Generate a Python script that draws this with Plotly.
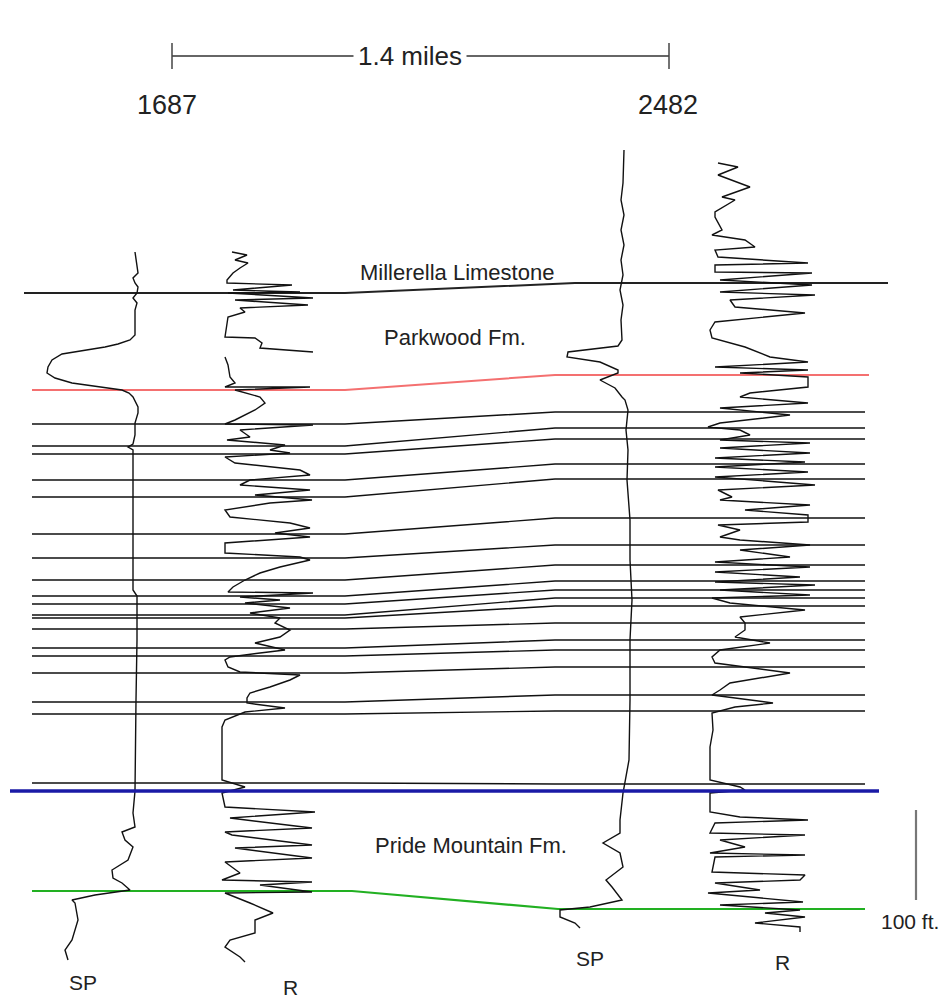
import plotly.graph_objects as go

# ---------------- data ----------------
well_names = ["1687", "2482"]
scale_label = "1.4 miles"
depth_scale_label = "100 ft."
formation_labels = ["Millerella Limestone", "Parkwood Fm.", "Pride Mountain Fm."]
curve_labels = ["SP", "R"]

# correlation horizons: depth at well 1687 (left) and at well 2482 (right)
horizon_left = [424, 446, 454, 480, 497, 534, 558, 580, 596, 604, 615, 618, 629, 648, 656, 673, 702, 714, 783]
horizon_right = [412, 428, 439, 464, 479, 518, 545, 565, 581, 590, 598, 606, 623, 640, 650, 667, 695, 711, 784]
millerella = [293, 283]
parkwood_base = [390, 375]
pride_top = [791, 791]
pride_base = [891, 909]

# well 1687 SP log (depth, reading)
w1_sp = [(252, 135), (267, 137), (273, 138), (278, 133), (283, 135), (287, 138), (293, 137), (298, 133),
         (303, 137), (310, 135), (320, 135), (335, 135), (340, 130), (344, 118), (347, 105), (350, 85),
         (354, 62), (360, 52), (367, 48), (373, 47), (378, 55), (383, 72), (387, 100), (390, 122),
         (393, 129), (397, 133), (407, 138), (413, 138), (423, 135), (435, 135), (444, 133), (447, 128),
         (450, 133), (500, 133), (540, 133), (580, 133), (590, 133), (596, 137), (640, 137), (700, 136),
         (760, 135), (791, 135), (813, 133), (827, 135), (832, 122), (840, 125), (847, 133), (860, 128),
         (870, 112), (878, 113), (883, 122), (890, 130), (895, 95), (900, 72), (903, 75), (920, 78),
         (940, 72), (950, 65), (960, 68)]

# well 1687 resistivity log (None = break in trace)
w1_r = [(252, 232), (255, 247), (260, 235), (263, 248), (268, 240), (273, 233), (280, 227), (283, 227),
        (285, 292), (290, 233), (292, 300), (293, 228), (298, 313), (300, 235), (305, 308), (308, 240),
        (312, 245), (317, 228), (337, 225), (338, 255), (343, 262), (348, 260), (352, 313), None,
        (357, 225), (365, 228), (377, 230), (383, 235), (387, 225), (387, 310), (390, 235), (397, 260),
        (403, 265), (410, 255), (420, 235), (424, 225), (425, 313), (430, 240), (437, 250), (440, 227),
        (445, 285), (450, 270), (453, 290), (457, 225), (463, 235), (470, 300), (475, 310), (480, 250),
        (485, 240), (490, 310), (495, 255), (500, 312), (503, 270), (510, 225), (517, 230), (523, 290),
        (528, 310), (533, 275), (537, 310), (543, 225), (553, 225), (557, 300), (560, 310), (567, 280),
        (573, 260), (580, 245), (587, 233), (592, 228), (593, 313), (597, 240), (600, 280), (603, 245),
        (608, 290), (613, 250), (618, 280), (623, 275), (630, 290), (637, 280), (643, 255), (650, 285),
        (653, 260), (657, 230), (660, 225), (667, 228), (672, 240), (675, 300), (680, 290), (687, 270),
        (693, 250), (698, 247), (703, 247), (708, 285), (712, 245), (720, 225), (727, 222), (780, 222),
        (787, 245), (793, 222), (807, 225), (812, 315), (818, 230), (828, 312), (832, 225), (835, 232),
        (845, 312), (848, 235), (858, 312), (862, 225), (873, 240), (880, 222), (882, 312), (885, 260),
        (892, 312), (893, 225), (903, 250), (913, 273), (920, 255), (933, 255), (940, 230), (947, 225),
        (957, 240), (962, 245)]

# well 2482 SP log
w2_sp = [(150, 624), (183, 623), (200, 621), (215, 624), (230, 621), (245, 624), (260, 621), (275, 623),
         (290, 620), (305, 623), (320, 621), (340, 622), (346, 618), (349, 590), (352, 568), (357, 567),
         (362, 600), (370, 618), (373, 618), (380, 600), (388, 615), (397, 622), (400, 625), (410, 628),
         (430, 626), (450, 628), (480, 627), (520, 630), (560, 630), (600, 632), (640, 630), (700, 630),
         (760, 629), (793, 623), (820, 620), (833, 620), (843, 603), (853, 620), (867, 623), (880, 606),
         (887, 612), (900, 622), (907, 590), (910, 560), (917, 560), (923, 575), (928, 580)]

# well 2482 resistivity log
w2_r = [(163, 718), (167, 738), (175, 718), (187, 750), (197, 722), (200, 735), (212, 715), (217, 715),
        (230, 722), (235, 712), (240, 745), (247, 755), (250, 715), (257, 718), (263, 808), (265, 715),
        (272, 715), (273, 812), (280, 720), (285, 812), (292, 720), (295, 815), (300, 730), (307, 735),
        (313, 805), (322, 715), (330, 710), (338, 712), (347, 745), (357, 770), (362, 808), (367, 715),
        (370, 808), (373, 740), (377, 808), (387, 808), (393, 750), (397, 740), (403, 808), (408, 720),
        (415, 790), (423, 720), (427, 708), (430, 740), (435, 750), (440, 720), (443, 810), (448, 720),
        (453, 810), (458, 715), (462, 805), (467, 715), (472, 808), (477, 715), (485, 815), (490, 718),
        (497, 732), (500, 720), (505, 810), (510, 745), (515, 808), (522, 808), (525, 718), (530, 740),
        (537, 720), (540, 740), (545, 810), (550, 740), (557, 790), (562, 715), (567, 810), (572, 715),
        (577, 800), (582, 715), (585, 815), (590, 720), (595, 810), (598, 712), (603, 730), (610, 805),
        (617, 740), (623, 745), (630, 745), (637, 735), (643, 770), (650, 720), (657, 712), (663, 715),
        (673, 790), (683, 730), (690, 720), (695, 712), (703, 773), (707, 735), (713, 712), (730, 713),
        (747, 710), (780, 710), (787, 740), (790, 745), (793, 710), (812, 710), (817, 740), (820, 808),
        (823, 715), (833, 710), (835, 805), (840, 720), (847, 745), (853, 710), (855, 805), (857, 715),
        (872, 712), (875, 805), (880, 800), (883, 715), (890, 760), (893, 708), (902, 803), (905, 720),
        (910, 800), (913, 765), (917, 805), (923, 755), (927, 800), (932, 800)]

# ---------------- layout constants ----------------
PAGE_W, PAGE_H = 948, 1004
BODY = 8  # default page margin around the plot div
FONT = "Liberation Sans, Arial, sans-serif"
TXT = "#222222"
X_LEFT, X_KINK1, X_KINK2, X_RIGHT = 32, 345, 555, 865

fig = go.Figure()


def add_line(xs, ys, color, width):
    fig.add_trace(go.Scatter(x=xs, y=ys, mode="lines", line=dict(color=color, width=width),
                             hoverinfo="skip", showlegend=False))


# black correlation lines
cx, cy = [], []
for yl, yr in zip(horizon_left, horizon_right):
    cx += [X_LEFT, X_KINK1, X_KINK2, X_RIGHT, None]
    cy += [yl, yl, yr, yr, None]
add_line(cx, cy, "#111111", 1.4)

# Millerella
add_line([24, 345, 575, 888], [millerella[0], millerella[0], millerella[1], millerella[1]], "#222222", 2)
# Parkwood base (red)
add_line([32, 345, 555, 869], [parkwood_base[0], parkwood_base[0], parkwood_base[1], parkwood_base[1]], "#f47070", 2)
# Pride base (green)
add_line([32, 352, 558, 865], [pride_base[0], pride_base[0], pride_base[1], pride_base[1]], "#22b022", 2.2)


def add_log(pairs):
    xs = [p[1] if p else None for p in pairs]
    ys = [p[0] if p else None for p in pairs]
    add_line(xs, ys, "#111111", 1.4)


for log in (w1_sp, w1_r, w2_sp, w2_r):
    add_log(log)

# Pride top (blue)
add_line([10, 879], [pride_top[0], pride_top[1]], "#1a1aa6", 3.5)

# scale bar
add_line([172, 669], [56, 56], "#666666", 2)
add_line([172, 172, None, 669, 669], [43, 69, None, 43, 69], "#444444", 1.5)
# 100 ft bar
add_line([916, 916], [810, 900], "#777777", 2.2)

ann = []


def text(x, y, s, size, bg=None, pad=1):
    d = dict(x=x, y=y, text=s, showarrow=False, xref="x", yref="y",
             font=dict(family=FONT, size=size, color=TXT), xanchor="center", yanchor="middle")
    if bg:
        d["bgcolor"] = bg
        d["borderpad"] = pad
    ann.append(d)


text(410, 56, scale_label, 26, bg="white", pad=4)
text(167, 105, well_names[0], 27)
text(668, 105, well_names[1], 27)
text(457, 272, formation_labels[0], 22)
text(455, 337, formation_labels[1], 22)
text(471, 845, formation_labels[2], 22)
text(910, 921, depth_scale_label, 21)
text(83, 982, curve_labels[0], 21)
text(290, 987, curve_labels[1], 21)
text(590, 958, curve_labels[0], 21)
text(782, 962, curve_labels[1], 21)

fig.update_layout(
    width=PAGE_W - BODY, height=PAGE_H - BODY, margin=dict(l=0, r=0, t=0, b=0),
    paper_bgcolor="white", plot_bgcolor="white",
    xaxis=dict(range=[BODY, PAGE_W], visible=False, fixedrange=True),
    yaxis=dict(range=[PAGE_H, BODY], visible=False, fixedrange=True),
    annotations=ann, showlegend=False,
)

fig.write_html("out.html")
